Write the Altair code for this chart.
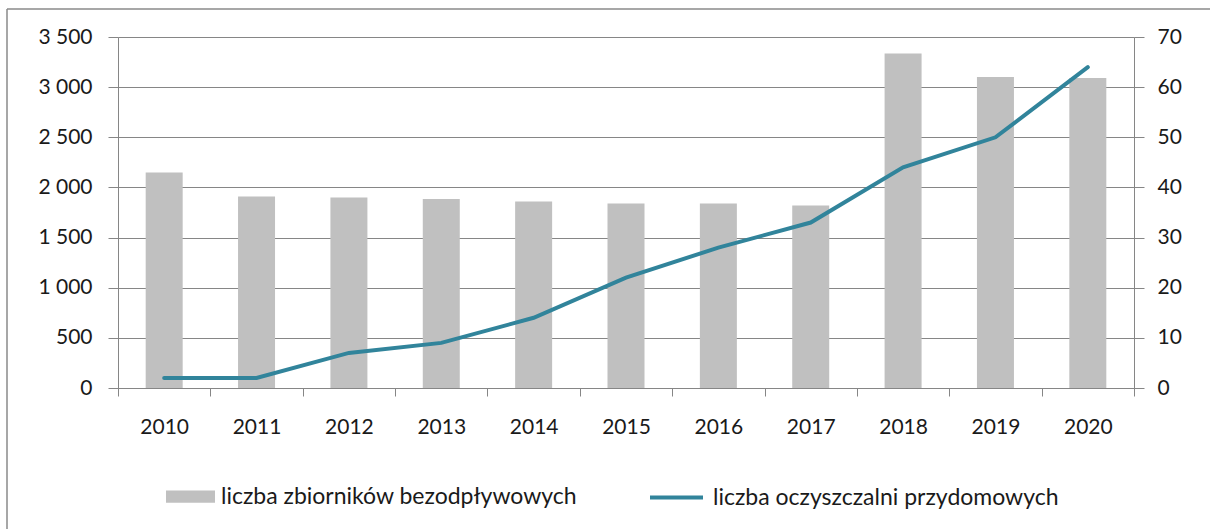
import altair as alt
import pandas as pd

FONT = "Lato"

years = [2010, 2011, 2012, 2013, 2014, 2015, 2016, 2017, 2018, 2019, 2020]
zbiorniki = [2150, 1910, 1900, 1885, 1860, 1840, 1840, 1820, 3335, 3100, 3090]
oczyszczalnie = [2, 2, 7, 9, 14, 22, 28, 33, 44, 50, 64]
name_bar = "liczba zbiorników bezodpływowych"
name_line = "liczba oczyszczalni przydomowych"
left_ticks = [0, 500, 1000, 1500, 2000, 2500, 3000, 3500]
right_ticks = [0, 10, 20, 30, 40, 50, 60, 70]
boundaries = [y - 0.5 for y in years] + [years[-1] + 0.5]

df = pd.DataFrame({
    "rok": years,
    "zbiorniki": zbiorniki,
    "oczyszczalnie": oczyszczalnie,
    "s1": [name_bar] * len(years),
    "s2": [name_line] * len(years),
})

GRID = "#868686"
TXT = "#1a1a1a"
STEP = 1016 / 11

xscale = alt.Scale(domain=[boundaries[0], boundaries[-1]], nice=False, zero=False, padding=0)
xaxis = alt.Axis(
    values=boundaries, title=None, grid=False, tickSize=8, tickColor=GRID,
    domainColor=GRID, labelOffset=STEP / 2, labelFlush=False, labelOverlap=False,
    labelBound=False,
    labelExpr="datum.value < 2020 ? format(datum.value + 0.5, 'd') : ''",
    labelFont=FONT, labelFontSize=21, labelColor=TXT, labelPadding=20,
)

bar = alt.Chart(df).mark_bar(size=37).encode(
    x=alt.X("rok:Q", scale=xscale, axis=xaxis),
    y=alt.Y("zbiorniki:Q", scale=alt.Scale(domain=[0, 3500], nice=False),
            axis=alt.Axis(values=left_ticks, title=None, grid=True, gridColor=GRID,
                          tickSize=10, tickColor=GRID, domainColor=GRID,
                          labelExpr="replace(format(datum.value, ','), ',', ' ')",
                          labelFont=FONT, labelFontSize=21, labelColor=TXT,
                          labelPadding=16)),
    fill=alt.Fill("s1:N", scale=alt.Scale(domain=[name_bar], range=["#C0C0C0"]),
                  legend=alt.Legend(title=None, orient="none", legendX=48, legendY=435,
                                    symbolType="M-1,-0.25H1V0.25H-1Z", symbolSize=2401,
                                    symbolStrokeWidth=0, labelFont=FONT, labelFontSize=23,
                                    labelColor=TXT, labelOffset=6, padding=0,
                                    labelLimit=1000)),
)

line = alt.Chart(df).mark_line(strokeWidth=4, strokeCap="round").encode(
    x=alt.X("rok:Q", scale=xscale, axis=xaxis),
    y=alt.Y("oczyszczalnie:Q", scale=alt.Scale(domain=[0, 70], nice=False),
            axis=alt.Axis(orient="right", values=right_ticks, title=None, grid=False,
                          tickSize=10, tickColor=GRID, domainColor=GRID,
                          labelFont=FONT, labelFontSize=21, labelColor=TXT,
                          labelPadding=13)),
    stroke=alt.Stroke("s2:N", scale=alt.Scale(domain=[name_line], range=["#31849B"]),
                      legend=alt.Legend(title=None, orient="none", legendX=530, legendY=432,
                                        symbolType="stroke", symbolSize=2809,
                                        symbolStrokeWidth=4, labelFont=FONT, labelFontSize=23,
                                        labelColor=TXT, labelOffset=8, padding=0,
                                        labelLimit=1000)),
)

frame_df = pd.DataFrame({"a": [0]})
frame_left = alt.Chart(frame_df).mark_rule(color="#8a8a8a", strokeWidth=1.5).encode(
    x=alt.value(-111), y=alt.value(-28), y2=alt.value(500))
frame_top = alt.Chart(frame_df).mark_rule(color="#8a8a8a", strokeWidth=1.5).encode(
    x=alt.value(-111), x2=alt.value(1100), y=alt.value(-28))

chart = alt.layer(bar, line, frame_left, frame_top).resolve_scale(
    y="independent", fill="independent", stroke="independent"
).properties(
    width=1016, height=351,
    autosize=alt.AutoSizeParams(type="none"),
    padding={"left": 118, "top": 37, "right": 76, "bottom": 141},
).configure_view(stroke=None).configure(background="white")

chart.save("out.html", embed_options={"renderer": "svg", "actions": False})
